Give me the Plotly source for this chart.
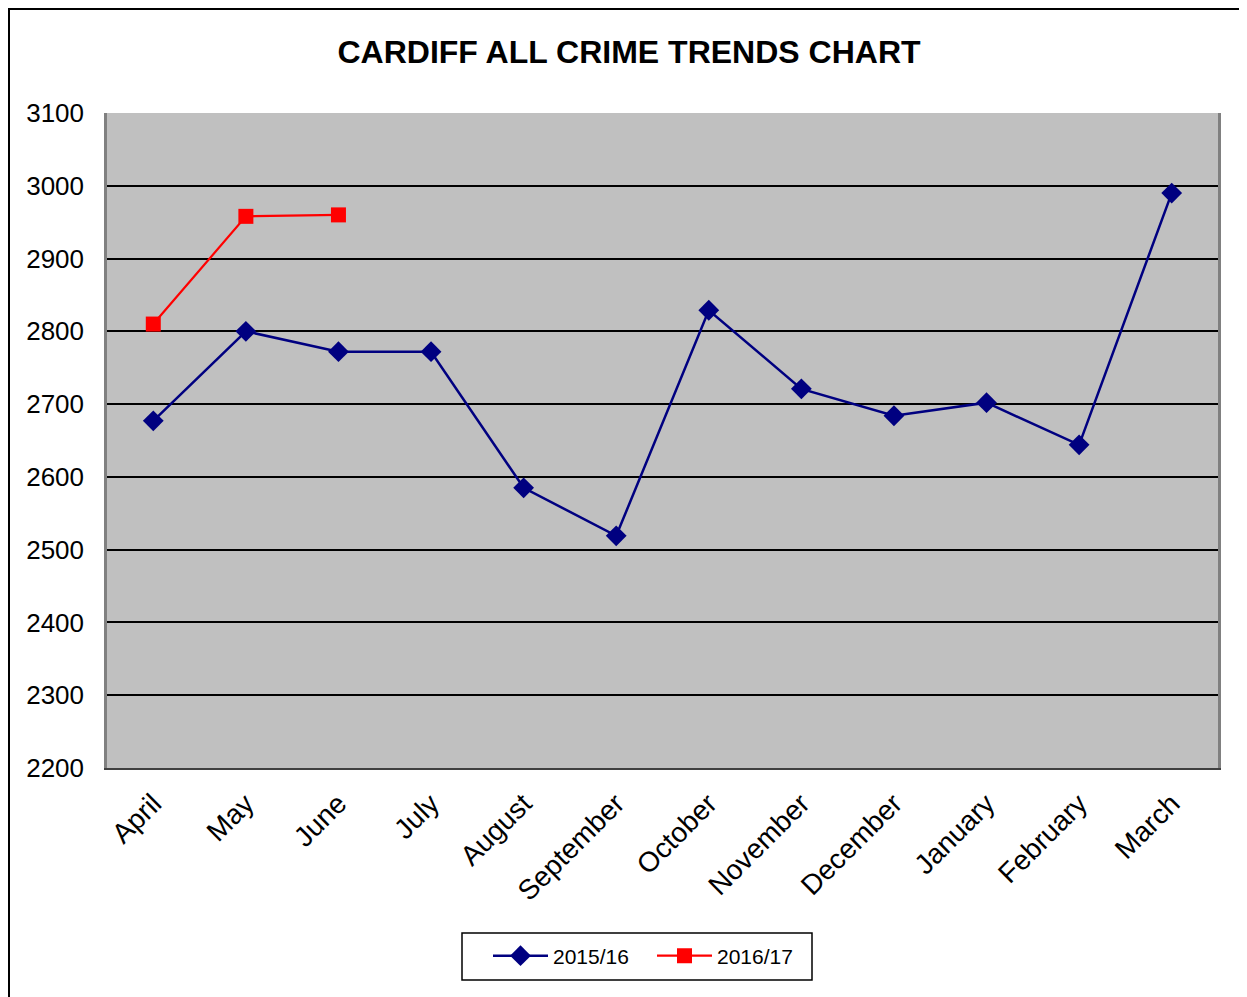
import plotly.graph_objects as go

months = ["April", "May", "June", "July", "August", "September", "October",
          "November", "December", "January", "February", "March"]
series_2015 = [2677, 2800, 2772, 2772, 2585, 2519, 2829, 2721, 2684, 2702, 2644, 2990]
months_2016 = ["April", "May", "June"]
series_2016 = [2810, 2958, 2960]
y_ticks = [2200, 2300, 2400, 2500, 2600, 2700, 2800, 2900, 3000, 3100]

FONT = "Liberation Sans, Arial, sans-serif"

# page has an 8px body margin; work in page pixels and convert
OFF = 8
W, H = 1247 - OFF, 997 - OFF
PL, PR, PT, PB = 107, 1218, 113, 768  # plot area in page pixels
L, T = PL - OFF, PT - OFF
R, B = W - (PR - OFF), H - (PB - OFF)
pw, ph = PR - PL, PB - PT

def px_x(p):
    return (p - PL) / pw

def px_y(p):
    return (PB - p) / ph

fig = go.Figure()
fig.add_trace(go.Scatter(
    x=months, y=series_2015, name="2015/16", mode="lines+markers",
    line=dict(color="#000080", width=2.5),
    marker=dict(symbol="diamond", size=16, color="#000080"),
))
fig.add_trace(go.Scatter(
    x=months_2016, y=series_2016, name="2016/17", mode="lines+markers",
    line=dict(color="#FF0000", width=2.2),
    marker=dict(symbol="square", size=15, color="#FF0000"),
))

fig.update_layout(
    width=W, height=H,
    margin=dict(l=L, r=R, t=T, b=B),
    paper_bgcolor="white",
    plot_bgcolor="#C0C0C0",
    font=dict(family=FONT, color="black", size=26),
    title=dict(text="<b>CARDIFF ALL CRIME TRENDS CHART</b>", x=px_x(629), xanchor="center",
               xref="paper", y=1 - (52 - OFF) / H, yanchor="middle",
               font=dict(size=32, family=FONT)),
    showlegend=True,
    legend=dict(orientation="h", x=px_x(488), xanchor="left", y=px_y(956), yanchor="middle",
                borderwidth=0, bgcolor="rgba(0,0,0,0)",
                font=dict(size=21, family=FONT), itemwidth=55,
                entrywidth=94, entrywidthmode="pixels", tracegroupgap=0),
    xaxis=dict(type="category", categoryarray=months, categoryorder="array",
               range=[-0.5, 11.5], tickangle=-45, showgrid=False,
               showline=True, linecolor="#404040", linewidth=2, mirror=False,
               ticks="", tickfont=dict(size=28, family=FONT), ticklabelstandoff=6,
               zeroline=False),
    yaxis=dict(range=[2200, 3100], tickvals=y_ticks, showgrid=True,
               gridcolor="black", gridwidth=1.5,
               showline=True, linecolor="#808080", linewidth=2.5, mirror=True,
               ticks="", tickfont=dict(size=26, family=FONT), ticklabelstandoff=15,
               zeroline=False),
    shapes=[
        # legend frame
        dict(type="rect", xref="paper", yref="paper", x0=px_x(462), x1=px_x(812),
             y0=px_y(980), y1=px_y(933), line=dict(color="black", width=1.5),
             fillcolor="white", layer="below"),
        # outer chart frame (left and top edges visible)
        dict(type="line", xref="paper", yref="paper", x0=px_x(OFF + 1), x1=px_x(OFF + 1),
             y0=px_y(OFF), y1=px_y(1010), line=dict(color="black", width=2)),
        dict(type="line", xref="paper", yref="paper", x0=px_x(OFF), x1=px_x(1260),
             y0=px_y(OFF + 1), y1=px_y(OFF + 1), line=dict(color="black", width=2)),
    ],
)

fig.write_html("out.html")
